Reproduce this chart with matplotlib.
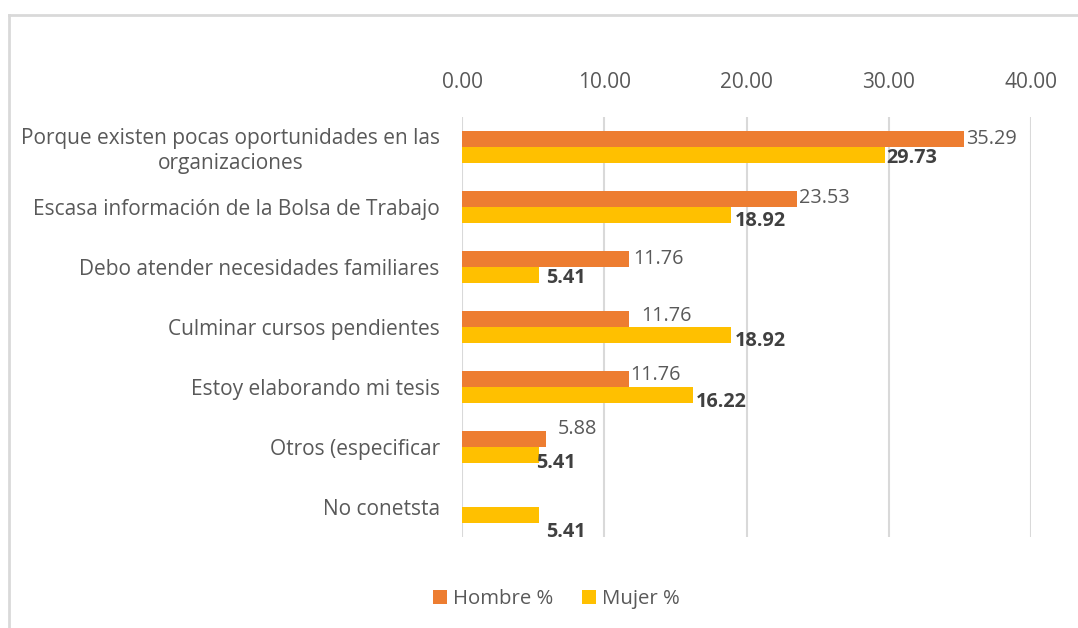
import matplotlib.pyplot as plt
from matplotlib.lines import Line2D
import numpy as np

plt.rcParams['font.family'] = ['Open Sans', 'DejaVu Sans']

# Data
categorias = ['Porque existen pocas oportunidades en las\norganizaciones',
              'Escasa información de la Bolsa de Trabajo',
              'Debo atender necesidades familiares',
              'Culminar cursos pendientes',
              'Estoy elaborando mi tesis',
              'Otros (especificar',
              'No conetsta']
hombre = [35.29, 23.53, 11.76, 11.76, 11.76, 5.88, 0]
mujer = [29.73, 18.92, 5.41, 18.92, 16.22, 5.41, 5.41]

# label offsets (pixels) from bar end, placed like in the original Excel chart
off_h = [(2, 0), (2, 1), (4, 0), (12, 3), (1, 4), (12, 10), None]
off_m = [(1, -3), (4, -6), (7, -3), (4, -6), (3, -7), (-3, -8), (7, -17)]

c_h = '#ED7D31'
c_m = '#FFC000'
txt = '#595959'

fig = plt.figure(figsize=(10.78, 6.28), dpi=100)
ax = fig.add_axes([0.4286, 0.1449, 0.5278, 0.6688])

y = np.arange(len(categorias))
h = 0.267
ax.barh(y - h / 2, hombre, height=h, color=c_h, label='Hombre %')
ax.barh(y + h / 2, mujer, height=h, color=c_m, label='Mujer %')

for i in range(len(categorias)):
    if off_h[i] is not None:
        ax.annotate(f'{hombre[i]:.2f}', (hombre[i], y[i] - h / 2),
                    xytext=off_h[i], textcoords='offset pixels',
                    ha='left', va='center', fontsize=14.3, color=txt)
    ax.annotate(f'{mujer[i]:.2f}', (mujer[i], y[i] + h / 2),
                xytext=off_m[i], textcoords='offset pixels',
                ha='left', va='center', fontsize=14.3, color='#404040',
                fontweight='bold')

ax.set_xlim(0, 40)
ax.set_ylim(len(categorias) - 0.5, -0.5)
ax.set_xticks([0, 10, 20, 30, 40])
ax.set_xticklabels([f'{v:.2f}' for v in [0, 10, 20, 30, 40]])
ax.xaxis.tick_top()
ax.set_yticks(y)
ax.set_yticklabels(categorias, multialignment='center')
ax.tick_params(axis='x', length=0, pad=17, labelsize=15, colors=txt)
ax.tick_params(axis='y', length=0, pad=16, labelsize=15, colors=txt)
ax.grid(axis='x', color='#d9d9d9', linewidth=1.5)
ax.set_axisbelow(True)
for s in ax.spines.values():
    s.set_visible(False)

leg = fig.legend(loc='center', bbox_to_anchor=(0.516, 0.046), ncol=2, frameon=False,
                 fontsize=14.7, handlelength=0.7, handleheight=0.7,
                 handletextpad=0.3, columnspacing=1.4)
for t in leg.get_texts():
    t.set_color(txt)

# chart border (only left/top visible in the crop)
fig.add_artist(Line2D([0.0088, 0.0088], [0, 0.976], color='#d9d9d9', linewidth=2))
fig.add_artist(Line2D([0.0088, 1], [0.976, 0.976], color='#d9d9d9', linewidth=2))

plt.savefig('out.png', dpi=100)
